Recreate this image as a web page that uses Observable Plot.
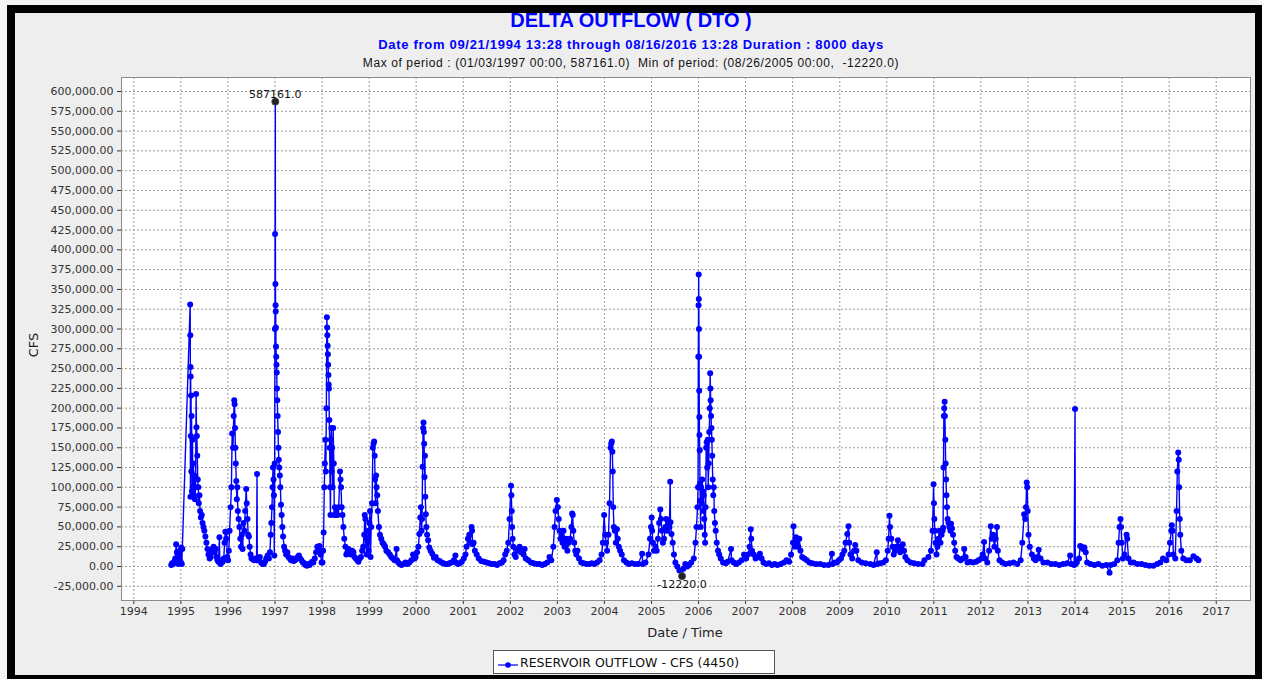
<!DOCTYPE html>
<html><head><meta charset="utf-8">
<script src="https://cdn.jsdelivr.net/npm/d3@7"></script>
<script src="https://cdn.jsdelivr.net/npm/@observablehq/plot@0.6"></script>
<style>
html,body{margin:0;padding:0;background:#f4f4f4;}
#page{position:relative;width:1262px;height:679px;overflow:hidden;font-family:"DejaVu Sans",sans-serif;}
#frame{position:absolute;left:7px;top:5px;width:1240px;height:662px;background:#eeeeee;border-style:solid;border-color:#000;border-width:8px 7px 4px 8px;}
#chart{position:absolute;left:0;top:0;}
.t{position:absolute;left:0;width:1262px;text-align:center;white-space:nowrap;}
#title{top:9px;font:bold 20px "Liberation Sans",Arial,sans-serif;color:#0000ff;}
#sub{top:37px;font:bold 13px "Liberation Sans",Arial,sans-serif;color:#0000ff;letter-spacing:0.7px;}
#sub2{top:56px;font:12px "Liberation Sans",Arial,sans-serif;color:#111;letter-spacing:0.6px;}
#ylab{position:absolute;left:33px;top:345px;transform:translate(-50%,-50%) rotate(-90deg);font-size:13px;color:#222;}
#xlab{position:absolute;left:685px;top:632px;transform:translate(-50%,-50%);font-size:13px;color:#222;}
#legend{position:absolute;left:493px;top:650px;width:282px;height:24px;background:#fff;border:1px solid #555;box-sizing:border-box;font-size:12.5px;color:#111;}
#legend svg{position:absolute;left:3px;top:5px;}
#legend span{position:absolute;left:26px;top:4px;white-space:nowrap;}
</style></head>
<body><div id="page">
<div id="frame"></div>
<div id="chart"></div>
<div class="t" id="title">DELTA OUTFLOW ( DTO )</div>
<div class="t" id="sub">Date from 09/21/1994 13:28 through 08/16/2016 13:28 Duration : 8000 days</div>
<div class="t" id="sub2">Max of period : (01/03/1997 00:00, 587161.0)&nbsp; Min of period: (08/26/2005 00:00, &nbsp;-12220.0)</div>
<div id="ylab">CFS</div>
<div id="xlab">Date / Time</div>
<div id="legend"><svg width="22" height="14"><line x1="1" y1="9" x2="21" y2="9" stroke="#0000ff" stroke-width="1.2"/><circle cx="11" cy="9" r="2.8" fill="#0000ff"/></svg><span>RESERVOIR OUTFLOW - CFS (4450)</span></div>
</div>
<script>
// Delta outflow readings, thousand cfs
const flow1994_1996 = [
["1994-10-18",2],["1994-10-25",4],["1994-11-02",3],["1994-11-10",6],["1994-11-18",10],["1994-11-25",28],["1994-12-01",18],["1994-12-06",5],["1994-12-12",3],["1994-12-18",12],["1994-12-24",20],["1994-12-30",6],["1995-01-04",24],["1995-01-08",3],["1995-01-12",22],
["1995-03-14",331],["1995-03-15",292],["1995-03-16",88],["1995-03-17",252],["1995-03-18",240],["1995-03-19",165],["1995-03-21",216],["1995-03-23",120],["1995-03-25",190],["1995-03-28",95],["1995-04-01",160],["1995-04-04",100],["1995-04-08",130],["1995-04-12",90],["1995-04-16",115],["1995-04-20",85],["1995-04-25",100],["1995-04-29",218],["1995-05-02",176],["1995-05-05",165],["1995-05-08",140],["1995-05-12",110],["1995-05-16",100],["1995-05-20",80],["1995-05-25",90],["1995-05-30",70],["1995-06-05",62],["1995-06-12",65],["1995-06-18",55],["1995-06-25",50],["1995-07-02",45],["1995-07-10",38],["1995-07-18",30],["1995-07-26",22],["1995-08-03",15],["1995-08-12",10],["1995-08-20",12],["1995-08-28",18],["1995-09-05",22],["1995-09-12",25],["1995-09-20",18],["1995-09-28",22],["1995-10-05",12],["1995-10-12",8],["1995-10-20",6],["1995-10-27",37],["1995-10-30",5],["1995-11-06",3],["1995-11-14",8],["1995-11-22",6],["1995-11-30",10],["1995-12-06",30],["1995-12-12",44],["1995-12-18",35],["1995-12-22",44],["1995-12-27",12],
["1996-01-02",8],["1996-01-08",20],["1996-01-14",45],["1996-01-22",75],["1996-01-28",100],["1996-02-03",168],["1996-02-10",150],["1996-02-15",190],["1996-02-19",210],["1996-02-22",205],["1996-02-25",175],["1996-02-28",150],["1996-03-02",130],["1996-03-06",108],["1996-03-10",85],["1996-03-14",100],["1996-03-18",70],["1996-03-24",60],["1996-03-30",50],["1996-04-06",35],["1996-04-12",25],["1996-04-18",40],["1996-04-24",22],["1996-05-01",55],["1996-05-08",45],["1996-05-14",70],["1996-05-22",98],["1996-05-26",80],["1996-06-01",60],["1996-06-06",40],["1996-06-12",38],["1996-06-18",25],["1996-06-25",15],["1996-07-02",10],["1996-07-12",9],["1996-07-22",8],["1996-08-02",10],["1996-08-10",8],["1996-08-14",117],["1996-08-16",8],["1996-08-26",10],["1996-09-05",12],["1996-09-15",5],["1996-09-25",3],["1996-10-05",3],["1996-10-15",6],["1996-10-25",10],["1996-11-04",14],["1996-11-14",10],["1996-11-22",18],["1996-11-28",40],["1996-12-03",55],["1996-12-08",75],["1996-12-12",100],["1996-12-16",125],["1996-12-20",110],["1996-12-23",90],["1996-12-26",14],["1996-12-29",130],["1996-12-31",300]
];
const flow1997_1999 = [
["1997-01-01",420],["1997-01-03",587.161],["1997-01-04",357],["1997-01-05",330],["1997-01-06",322],["1997-01-07",302],["1997-01-08",278],["1997-01-10",265],["1997-01-12",255],["1997-01-14",245],["1997-01-16",225],["1997-01-18",210],["1997-01-21",190],["1997-01-24",170],["1997-01-27",150],["1997-01-30",135],["1997-02-03",125],["1997-02-07",115],["1997-02-11",100],["1997-02-16",78],["1997-02-21",65],["1997-02-26",50],["1997-03-04",38],["1997-03-12",25],["1997-03-20",20],["1997-03-28",15],["1997-04-06",18],["1997-04-15",12],["1997-04-25",10],["1997-05-05",8],["1997-05-15",10],["1997-05-25",7],["1997-06-05",8],["1997-06-15",10],["1997-06-25",12],["1997-07-05",14],["1997-07-15",10],["1997-07-25",8],["1997-08-05",5],["1997-08-15",4],["1997-08-25",2],["1997-09-05",1],["1997-09-15",3],["1997-09-25",2],["1997-10-05",4],["1997-10-15",6],["1997-10-25",5],["1997-11-05",10],["1997-11-15",18],["1997-11-25",25],["1997-12-05",20],["1997-12-12",26],["1997-12-20",15],["1997-12-28",5],
["1998-01-04",5],["1998-01-09",20],["1998-01-13",43],["1998-01-18",100],["1998-01-22",130],["1998-01-26",160],["1998-01-30",120],["1998-02-03",200],["1998-02-07",315],["1998-02-09",302],["1998-02-11",292],["1998-02-13",279],["1998-02-15",268],["1998-02-17",255],["1998-02-19",242],["1998-02-21",230],["1998-02-23",225],["1998-02-26",185],["1998-03-01",150],["1998-03-04",100],["1998-03-07",65],["1998-03-10",160],["1998-03-14",175],["1998-03-17",120],["1998-03-20",150],["1998-03-24",100],["1998-03-28",175],["1998-04-02",130],["1998-04-06",65],["1998-04-10",75],["1998-04-15",65],["1998-04-22",70],["1998-05-01",65],["1998-05-10",75],["1998-05-20",120],["1998-05-24",110],["1998-05-28",100],["1998-06-02",75],["1998-06-08",65],["1998-06-15",50],["1998-06-22",35],["1998-07-01",25],["1998-07-08",15],["1998-07-16",18],["1998-07-25",22],["1998-08-03",20],["1998-08-12",15],["1998-08-22",20],["1998-09-01",18],["1998-09-10",12],["1998-09-20",10],["1998-10-01",8],["1998-10-10",6],["1998-10-20",10],["1998-10-30",12],["1998-11-08",20],["1998-11-16",25],["1998-11-24",40],["1998-11-28",65],["1998-12-03",60],["1998-12-08",35],["1998-12-13",15],["1998-12-18",30],["1998-12-24",45],["1998-12-28",20],
["1999-01-03",55],["1999-01-08",70],["1999-01-12",12],["1999-01-17",50],["1999-01-24",80],["1999-01-30",150],["1999-02-04",155],["1999-02-09",158],["1999-02-13",140],["1999-02-16",110],["1999-02-20",80],["1999-02-24",115],["1999-02-28",100],["1999-03-05",90],["1999-03-10",70],["1999-03-18",50],["1999-03-26",40],["1999-04-05",35],["1999-04-15",30],["1999-04-25",28],["1999-05-05",25],["1999-05-15",20],["1999-05-28",18],["1999-06-10",15],["1999-06-22",12],["1999-07-05",10],["1999-07-18",8],["1999-08-02",22],["1999-08-05",8],["1999-08-15",5],["1999-08-28",3],["1999-09-10",2],["1999-09-25",3],["1999-10-10",5],["1999-10-25",3],["1999-11-10",5],["1999-11-25",8],["1999-12-08",15],["1999-12-20",10],["1999-12-28",12]
];
const flow2000_2003 = [
["2000-01-08",18],["2000-01-18",25],["2000-01-26",41],["2000-02-02",62],["2000-02-07",75],["2000-02-12",45],["2000-02-16",60],["2000-02-20",126],["2000-02-24",175],["2000-02-27",182],["2000-03-01",170],["2000-03-03",155],["2000-03-06",113],["2000-03-09",140],["2000-03-12",88],["2000-03-16",66],["2000-03-20",50],["2000-03-26",40],["2000-04-03",33],["2000-04-12",24],["2000-04-22",20],["2000-05-05",16],["2000-05-18",11],["2000-06-01",12],["2000-06-15",8],["2000-07-01",7],["2000-07-15",5],["2000-08-01",4],["2000-08-15",3],["2000-09-01",3],["2000-09-15",4],["2000-10-01",5],["2000-10-20",8],["2000-11-01",14],["2000-11-05",5],["2000-11-20",3],["2000-12-05",4],["2000-12-20",6],
["2001-01-05",10],["2001-01-18",15],["2001-01-26",25],["2001-02-06",35],["2001-02-16",40],["2001-02-24",30],["2001-03-06",50],["2001-03-10",45],["2001-03-15",28],["2001-03-22",30],["2001-04-01",20],["2001-04-15",15],["2001-05-01",10],["2001-05-20",7],["2001-06-10",6],["2001-07-01",5],["2001-07-20",4],["2001-08-10",3],["2001-09-01",3],["2001-09-20",2],["2001-10-10",4],["2001-10-28",5],["2001-11-10",8],["2001-11-22",15],["2001-12-04",20],["2001-12-16",30],["2001-12-26",60],
["2002-01-06",102],["2002-01-09",90],["2002-01-12",70],["2002-01-15",50],["2002-01-19",35],["2002-01-24",25],["2002-02-02",15],["2002-02-12",12],["2002-02-22",22],["2002-03-02",20],["2002-03-14",25],["2002-03-24",18],["2002-04-03",20],["2002-04-14",15],["2002-04-22",22],["2002-05-01",10],["2002-05-20",8],["2002-06-10",5],["2002-07-01",4],["2002-07-25",3],["2002-08-15",3],["2002-09-05",2],["2002-09-25",3],["2002-10-15",5],["2002-11-01",12],["2002-11-15",8],["2002-12-01",25],["2002-12-10",50],["2002-12-18",70],["2002-12-28",84],
["2003-01-05",75],["2003-01-12",60],["2003-01-18",45],["2003-01-25",35],["2003-02-02",40],["2003-02-10",30],["2003-02-18",45],["2003-02-26",25],["2003-03-10",35],["2003-03-20",20],["2003-03-30",30],["2003-04-10",35],["2003-04-20",50],["2003-04-26",67],["2003-04-30",65],["2003-05-05",45],["2003-05-12",30],["2003-05-20",20],["2003-05-28",15],["2003-06-06",20],["2003-06-18",10],["2003-07-05",5],["2003-07-25",4],["2003-08-15",3],["2003-09-05",3],["2003-09-25",4],["2003-10-15",3],["2003-11-05",5],["2003-11-25",8],["2003-12-10",15],["2003-12-20",30],["2003-12-30",65]
];
const flow2004_2007 = [
["2004-01-08",40],["2004-01-14",30],["2004-01-22",20],["2004-02-02",40],["2004-02-10",80],["2004-02-18",150],["2004-02-23",155],["2004-02-28",158],["2004-03-03",145],["2004-03-06",120],["2004-03-10",75],["2004-03-15",50],["2004-03-22",45],["2004-03-30",30],["2004-04-08",47],["2004-04-14",35],["2004-04-22",25],["2004-05-02",20],["2004-05-15",15],["2004-06-01",8],["2004-06-20",5],["2004-07-10",3],["2004-08-01",4],["2004-08-25",3],["2004-09-20",3],["2004-10-20",16],["2004-10-25",3],["2004-11-15",5],["2004-12-08",15],["2004-12-20",35],["2004-12-28",50],
["2005-01-02",62],["2005-01-06",45],["2005-01-12",30],["2005-01-20",20],["2005-02-01",25],["2005-02-10",20],["2005-02-20",35],["2005-03-01",55],["2005-03-10",72],["2005-03-15",60],["2005-03-22",45],["2005-03-30",30],["2005-04-08",35],["2005-04-18",50],["2005-04-25",60],["2005-05-01",45],["2005-05-10",55],["2005-05-20",50],["2005-05-26",107],["2005-05-28",56],["2005-06-05",41],["2005-06-14",30],["2005-06-24",15],["2005-07-05",5],["2005-07-20",0],["2005-08-05",-5],["2005-08-26",-12.22],["2005-09-05",-3],["2005-09-20",3],["2005-10-05",0],["2005-10-20",2],["2005-11-05",5],["2005-11-25",10],["2005-12-08",30],["2005-12-16",50],["2005-12-24",75],["2005-12-28",100],["2005-12-30",265],
["2006-01-01",330],["2006-01-02",369],["2006-01-03",338],["2006-01-04",300],["2006-01-05",265],["2006-01-06",222],["2006-01-07",189],["2006-01-08",166],["2006-01-10",147],["2006-01-12",105],["2006-01-14",83],["2006-01-17",50],["2006-01-21",100],["2006-01-25",80],["2006-01-29",110],["2006-02-02",95],["2006-02-06",70],["2006-02-10",90],["2006-02-14",60],["2006-02-18",40],["2006-02-21",30],["2006-02-25",75],["2006-03-01",150],["2006-03-05",157],["2006-03-09",125],["2006-03-13",160],["2006-03-17",100],["2006-03-21",130],["2006-03-25",170],["2006-03-29",200],["2006-04-01",244],["2006-04-03",225],["2006-04-05",210],["2006-04-08",190],["2006-04-11",175],["2006-04-14",160],["2006-04-17",140],["2006-04-21",110],["2006-04-25",90],["2006-04-29",100],["2006-05-03",70],["2006-05-08",55],["2006-05-14",45],["2006-05-22",30],["2006-06-01",20],["2006-06-10",15],["2006-06-22",10],["2006-07-10",5],["2006-08-01",4],["2006-08-15",6],["2006-09-10",22],["2006-09-14",8],["2006-10-01",5],["2006-10-20",3],["2006-11-10",5],["2006-12-01",8],["2006-12-20",15],
["2007-01-05",10],["2007-01-20",15],["2007-02-01",25],["2007-02-10",47],["2007-02-14",35],["2007-02-20",20],["2007-03-05",15],["2007-03-20",10],["2007-04-05",12],["2007-04-22",16],["2007-05-05",10],["2007-05-20",5],["2007-06-10",3],["2007-07-01",4],["2007-07-25",2],["2007-08-15",3],["2007-09-05",2],["2007-10-01",3],["2007-10-25",5],["2007-11-15",8],["2007-12-05",6],["2007-12-20",15]
];
const flow2008_2011 = [
["2008-01-04",30],["2008-01-08",51],["2008-01-12",30],["2008-01-20",25],["2008-01-28",37],["2008-02-05",30],["2008-02-14",25],["2008-02-22",35],["2008-03-02",20],["2008-03-15",12],["2008-04-01",10],["2008-04-20",8],["2008-05-10",5],["2008-06-01",4],["2008-07-01",3],["2008-08-01",3],["2008-09-01",2],["2008-10-05",2],["2008-11-01",16],["2008-11-05",3],["2008-11-25",5],["2008-12-10",5],["2008-12-25",8],
["2009-01-10",10],["2009-01-22",15],["2009-02-05",20],["2009-02-15",30],["2009-02-28",41],["2009-03-10",51],["2009-03-15",30],["2009-03-25",15],["2009-04-08",10],["2009-04-22",20],["2009-05-01",27],["2009-05-10",20],["2009-05-25",8],["2009-06-20",5],["2009-07-20",4],["2009-08-25",3],["2009-09-20",2],["2009-10-15",18],["2009-10-20",3],["2009-11-10",4],["2009-12-05",5],["2009-12-25",8],
["2010-01-08",20],["2010-01-15",35],["2010-01-22",64],["2010-01-26",50],["2010-02-05",35],["2010-02-15",25],["2010-02-24",15],["2010-03-05",20],["2010-03-15",25],["2010-03-28",33],["2010-04-05",25],["2010-04-15",18],["2010-04-25",22],["2010-05-05",28],["2010-05-15",20],["2010-05-25",12],["2010-06-10",8],["2010-07-05",5],["2010-08-01",4],["2010-09-01",3],["2010-10-05",3],["2010-10-20",8],["2010-11-20",12],["2010-12-10",20],["2010-12-22",45],["2010-12-30",104],
["2011-01-02",80],["2011-01-05",60],["2011-01-09",45],["2011-01-15",30],["2011-01-22",15],["2011-01-29",25],["2011-02-06",35],["2011-02-14",45],["2011-02-22",30],["2011-03-02",40],["2011-03-10",45],["2011-03-14",49],["2011-03-17",125],["2011-03-20",190],["2011-03-23",200],["2011-03-26",208],["2011-03-28",190],["2011-03-31",160],["2011-04-03",130],["2011-04-06",110],["2011-04-09",90],["2011-04-13",75],["2011-04-18",60],["2011-04-25",55],["2011-05-02",50],["2011-05-10",45],["2011-05-15",54],["2011-05-22",48],["2011-05-30",40],["2011-06-08",30],["2011-06-16",20],["2011-06-26",12],["2011-07-10",10],["2011-07-28",8],["2011-08-15",10],["2011-08-25",22],["2011-09-05",12],["2011-09-20",5],["2011-10-10",6],["2011-11-01",5],["2011-11-25",6],["2011-12-15",8]
];
const flow2012_2016 = [
["2012-01-05",10],["2012-01-15",15],["2012-01-26",31],["2012-02-02",10],["2012-02-20",5],["2012-03-05",20],["2012-03-18",51],["2012-03-25",35],["2012-04-05",40],["2012-04-15",25],["2012-04-25",35],["2012-05-05",50],["2012-05-12",20],["2012-05-25",8],["2012-06-15",5],["2012-07-10",3],["2012-08-10",4],["2012-09-10",5],["2012-10-10",3],["2012-11-05",8],["2012-11-18",30],["2012-12-02",66],["2012-12-10",60],["2012-12-16",75],["2012-12-22",106],["2012-12-26",100],["2012-12-30",70],
["2013-01-05",40],["2013-01-15",25],["2013-02-01",15],["2013-02-15",10],["2013-03-01",8],["2013-03-15",12],["2013-03-25",21],["2013-04-08",10],["2013-05-01",5],["2013-06-01",5],["2013-07-01",3],["2013-08-01",3],["2013-09-01",2],["2013-10-01",3],["2013-11-01",4],["2013-11-24",14],["2013-12-05",3],["2013-12-25",2],
["2014-01-01",199],["2014-01-03",3],["2014-01-15",5],["2014-02-01",10],["2014-02-10",26],["2014-02-20",25],["2014-03-05",22],["2014-03-15",24],["2014-03-25",18],["2014-04-05",5],["2014-05-01",3],["2014-06-01",2],["2014-07-01",3],["2014-08-01",1],["2014-09-01",2],["2014-09-26",-8],["2014-10-05",2],["2014-11-01",3],["2014-11-25",8],["2014-12-05",30],["2014-12-12",50],["2014-12-20",60],["2014-12-24",50],["2014-12-30",30],
["2015-01-08",10],["2015-01-20",15],["2015-02-05",40],["2015-02-10",35],["2015-02-20",10],["2015-03-10",5],["2015-04-01",5],["2015-05-01",3],["2015-06-01",3],["2015-07-01",2],["2015-08-01",1],["2015-09-01",1],["2015-10-01",3],["2015-10-25",5],["2015-11-15",10],["2015-12-10",8],["2015-12-28",15],
["2016-01-08",30],["2016-01-18",45],["2016-01-22",52],["2016-01-28",45],["2016-02-04",15],["2016-02-18",10],["2016-02-28",70],["2016-03-05",120],["2016-03-12",144],["2016-03-16",135],["2016-03-19",100],["2016-03-24",60],["2016-03-28",40],["2016-04-05",20],["2016-04-20",10],["2016-05-15",8],["2016-06-10",8],["2016-07-08",13],["2016-08-01",10],["2016-08-16",8]
];
const yearTicks = d3.range(1994, 2018);
const valueTicks = d3.range(-25000, 600001, 25000);

const data = [...flow1994_1996, ...flow1997_1999, ...flow2000_2003, ...flow2004_2007, ...flow2008_2011, ...flow2012_2016]
  .map(([d, v]) => ({date: new Date(d + "T00:00:00Z"), cfs: Math.round(v * 1000)}))
  .sort((a, b) => a.date - b.date);
const maxPt = d3.greatest(data, d => d.cfs);
const minPt = d3.least(data, d => d.cfs);
const locale = d3.formatLocale({decimal: ".", thousands: ",", grouping: [3], currency: ["", ""], minus: "-"});
const xTickDates = yearTicks.map(y => new Date(Date.UTC(y, 0, 1)));

const chart = Plot.plot({
  width: 1262, height: 679,
  marginLeft: 121, marginRight: 12, marginTop: 77, marginBottom: 79,
  style: {background: "transparent", fontFamily: "DejaVu Sans, sans-serif", fontSize: "11px", color: "#333"},
  x: {type: "utc", domain: [new Date(Date.UTC(1993, 8, 27)), new Date(Date.UTC(2017, 8, 24))], ticks: xTickDates, tickFormat: d3.utcFormat("%Y"), tickSize: 4, tickPadding: 3, label: null},
  y: {domain: [-42950, 617700], ticks: valueTicks, tickFormat: locale.format(",.2f"), tickSize: 4, tickPadding: 4, label: null},
  marks: [
    Plot.frame({fill: "white", stroke: "none"}),
    Plot.ruleX(xTickDates, {stroke: "#9a9a9a", strokeDasharray: "2,2", strokeWidth: 1}),
    Plot.ruleY(valueTicks, {stroke: "#9a9a9a", strokeDasharray: "2,2", strokeWidth: 1}),
    Plot.frame({stroke: "#8c8c8c"}),
    Plot.line(data, {x: "date", y: "cfs", stroke: "#0000ff", strokeWidth: 1.4}),
    Plot.dot(data, {x: "date", y: "cfs", r: 3, fill: "#0000ff", stroke: "none"}),
    Plot.dot([maxPt, minPt], {x: "date", y: "cfs", r: 3.6, fill: "#222", stroke: "#555", strokeWidth: 0.8}),
    Plot.text([maxPt], {x: "date", y: "cfs", text: d => locale.format(".1f")(d.cfs), dy: -7, fill: "#111", fontSize: 11}),
    Plot.text([minPt], {x: "date", y: "cfs", text: d => locale.format(".1f")(d.cfs), dy: 8, fill: "#111", fontSize: 11})
  ]
});
document.getElementById("chart").appendChild(chart);
</script>
</body></html>
